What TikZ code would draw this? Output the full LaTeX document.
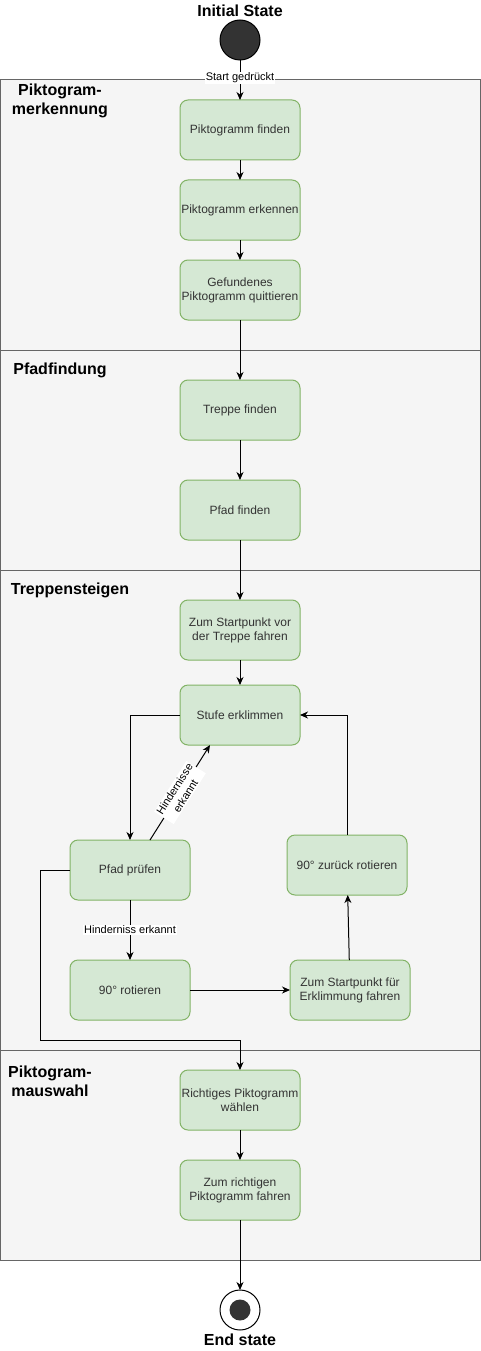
\documentclass[tikz,border=0pt]{standalone}
\usepackage{fontspec}
\setmainfont{Liberation Sans}
\usetikzlibrary{positioning}
\usetikzlibrary{arrows,arrows.meta}

\definecolor{lanefill}{HTML}{F5F5F5}
\definecolor{laneline}{HTML}{666666}
\definecolor{boxfill}{HTML}{D5E8D4}
\definecolor{boxline}{HTML}{82B366}
\definecolor{dot}{HTML}{333333}

\begin{document}
\begin{tikzpicture}[x=1pt,y=-1pt,->,>={Stealth[length=8pt,width=7pt,inset=2.5pt]},node distance=20pt,
                line width=1pt,
                lane/.style={draw=laneline,fill=lanefill},
                lane title/.style={align=center,font=\fontsize{16}{19}\selectfont\bfseries},
                state title/.style={font=\fontsize{16}{19}\selectfont\bfseries},
                act node/.style={rectangle,rounded corners=8pt,draw=boxline,fill=boxfill,
                  minimum width=120pt,minimum height=60pt,align=center,inner sep=1pt,
                  outer sep=0pt,text=dot,font=\fontsize{12}{14}\selectfont},
                edge label/.style={fill=white,inner sep=1pt,align=center,anchor=center,
                  font=\fontsize{11}{13}\selectfont}]

  \useasboundingbox (0,0) rectangle (481,1351);

  \draw[-,lane] (0,80) rectangle (480,350);
  \draw[-,lane] (0,350) rectangle (480,570);
  \draw[-,lane] (0,570) rectangle (480,1050);
  \draw[-,lane] (0,1050) rectangle (480,1260);

  \node[lane title] (l1) at (60,101) {Piktogram-\\merkennung};
  \node[lane title] (l2) at (60,370) {Pfadfindung};
  \node[lane title] (l3) at (70,590) {Treppensteigen};
  \node[lane title] (l4) at (50,1081) {Piktogram-\\mauswahl};

  \node[state title] (inittext) at (240,11) {Initial State};
  \node[circle,draw=black,fill=dot,minimum size=40pt,inner sep=0pt,outer sep=0pt] (init) at (240,40) {};

  \node[act node] (pf) at (240,130) {Piktogramm finden};
  \node[act node] (pe) [below=of pf] {Piktogramm erkennen};
  \node[act node] (gpq) [below=of pe] {Gefundenes\\Piktogramm quittieren};

  \node[act node] (tf) [below=60pt of gpq] {Treppe finden};
  \node[act node] (pfd) [below=40pt of tf] {Pfad finden};

  \node[act node] (zs) [below=60pt of pfd] {Zum Startpunkt vor\\der Treppe fahren};
  \node[act node] (se) [below=25pt of zs] {Stufe erklimmen};
  \node[act node] (pp) at (130,870) {Pfad prüfen};
  \node[act node] (r90) [below=60pt of pp] {90° rotieren};
  \node[act node] (zse) at (350,990) {Zum Startpunkt für\\Erklimmung fahren};
  \node[act node] (zr) at (347,865) {90° zurück rotieren};

  \node[act node] (rp) at (240,1100) {Richtiges Piktogramm\\wählen};
  \node[act node] (zrp) [below=30pt of rp] {Zum richtigen\\Piktogramm fahren};

  \node[circle,draw=black,fill=white,minimum size=40pt,inner sep=0pt,outer sep=0pt] (end) at (240,1310) {};
  \node[circle,fill=dot,minimum size=21pt,inner sep=0pt] (enddot) at (end) {};
  \node[state title] (endtext) at (240,1340) {End state};

  \coordinate (bend) at (40,1040);

  \path
    (init) edge node[edge label,pos=0.45] {Start gedrückt} (pf)
    (pf) edge (pe)
    (pe) edge (gpq)
    (gpq) edge (tf)
    (tf) edge (pfd)
    (pfd) edge (zs)
    (zs) edge (se)
    ([xshift=20pt]pp.north) edge node[edge label,sloped,midway] {Hindernisse\\erkannt} ([xshift=-30pt]se.south)
    (pp) edge node[edge label,pos=0.5] {Hinderniss erkannt} (r90)
    (r90) edge (zse)
    (zse) edge (zr)
    (rp) edge (zrp)
    (zrp) edge (end);

  \draw (se.west) -| (pp.north);
  \draw (zr.north) |- (se.east);
  \draw (pp.west) -| (bend) -| (rp.north);
\end{tikzpicture}
\end{document}
